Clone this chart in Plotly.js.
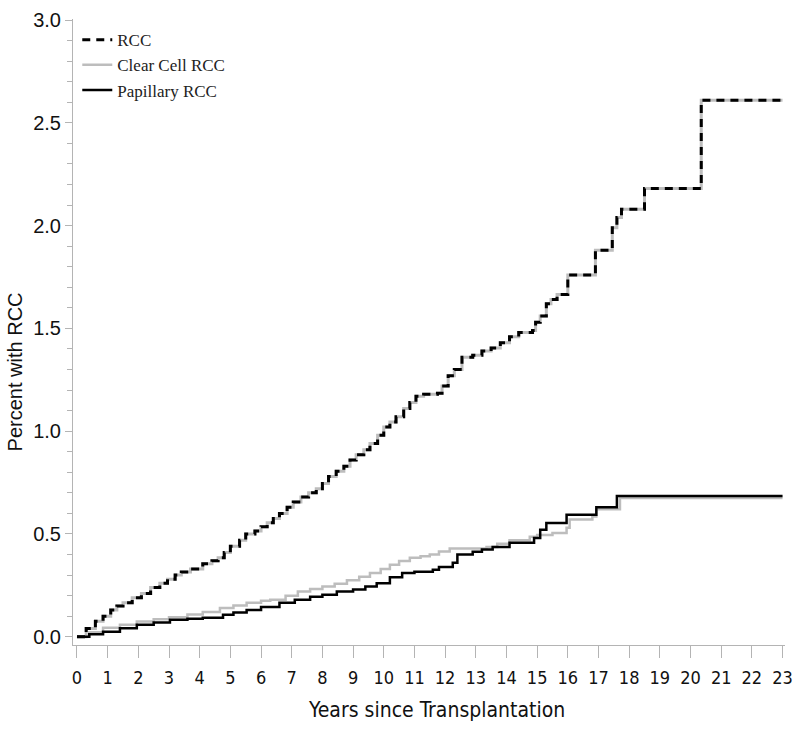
<!DOCTYPE html>
<html>
<head>
<meta charset="utf-8">
<script src="https://cdn.plot.ly/plotly-3.0.1.min.js"></script>
<style>html,body{margin:0;padding:0;background:#fff;}#chart{width:800px;height:734px;}</style>
</head>
<body>
<div id="chart"></div>
<script>
// RCC (all renal cell carcinoma)
const rccYears = [0, 0.3, 0.6, 0.85, 1.1, 1.3, 1.5, 1.8, 2.1, 2.4, 2.7, 2.95, 3.2, 3.4, 3.7, 4.1, 4.4, 4.6, 4.8, 5.0, 5.3, 5.5, 5.8, 6.0, 6.2, 6.4, 6.6, 6.85, 7.05, 7.3, 7.55, 7.8, 8.0, 8.2, 8.45, 8.7, 8.9, 9.1, 9.35, 9.55, 9.8, 10.0, 10.2, 10.4, 10.65, 10.85, 11.05, 11.3, 11.75, 11.9, 12.1, 12.3, 12.55, 12.9, 13.2, 13.5, 13.8, 14.1, 14.4, 14.85, 14.95, 15.1, 15.3, 15.45, 15.65, 16.0, 16.9, 17.05, 17.45, 17.6, 17.75, 18.5, 20.35, 23];
const rccPct   = [0, 0.04, 0.075, 0.10, 0.13, 0.15, 0.165, 0.19, 0.21, 0.24, 0.26, 0.28, 0.30, 0.315, 0.33, 0.355, 0.37, 0.385, 0.41, 0.44, 0.47, 0.50, 0.515, 0.535, 0.555, 0.575, 0.60, 0.63, 0.655, 0.68, 0.70, 0.72, 0.745, 0.78, 0.805, 0.83, 0.86, 0.885, 0.91, 0.94, 0.98, 1.02, 1.045, 1.07, 1.11, 1.14, 1.17, 1.18, 1.185, 1.22, 1.27, 1.30, 1.36, 1.37, 1.39, 1.405, 1.43, 1.46, 1.48, 1.49, 1.53, 1.56, 1.62, 1.64, 1.665, 1.76, 1.88, 1.88, 1.99, 2.04, 2.08, 2.18, 2.61, 2.61];

// Clear cell RCC
const ccYears = [0, 0.4, 0.85, 1.4, 1.95, 2.5, 3.0, 3.6, 4.1, 4.66, 5.1, 5.53, 6.0, 6.3, 6.8, 7.2, 7.6, 8.0, 8.4, 8.8, 9.2, 9.55, 9.9, 10.2, 10.5, 10.85, 11.2, 11.5, 11.8, 12.15, 13.35, 13.7, 14.1, 14.76, 15.0, 15.5, 15.96, 16.06, 16.8, 16.93, 17.7, 23];
const ccPct   = [0, 0.022, 0.044, 0.058, 0.074, 0.085, 0.095, 0.108, 0.12, 0.14, 0.152, 0.165, 0.175, 0.18, 0.2, 0.22, 0.232, 0.245, 0.258, 0.275, 0.292, 0.31, 0.33, 0.35, 0.368, 0.385, 0.392, 0.40, 0.415, 0.43, 0.437, 0.452, 0.47, 0.486, 0.495, 0.505, 0.53, 0.57, 0.585, 0.62, 0.675, 0.675];

// Papillary RCC
const papYears = [0, 0.4, 0.85, 1.4, 1.95, 2.5, 3.03, 3.6, 4.1, 4.76, 5.1, 5.53, 6.0, 6.6, 7.1, 7.6, 8.0, 8.47, 9.0, 9.4, 9.77, 10.2, 10.6, 11.0, 11.6, 11.8, 12.25, 12.4, 12.9, 13.2, 13.55, 14.1, 14.9, 15.1, 15.3, 15.96, 16.93, 17.6, 23];
const papPct   = [0, 0.012, 0.024, 0.042, 0.058, 0.07, 0.083, 0.088, 0.092, 0.107, 0.118, 0.13, 0.145, 0.165, 0.18, 0.195, 0.205, 0.22, 0.23, 0.245, 0.26, 0.29, 0.31, 0.316, 0.326, 0.34, 0.36, 0.40, 0.413, 0.425, 0.437, 0.457, 0.48, 0.52, 0.553, 0.593, 0.63, 0.685, 0.685];

const xTicks = [0,1,2,3,4,5,6,7,8,9,10,11,12,13,14,15,16,17,18,19,20,21,22,23];
const yTicks = [0, 0.5, 1.0, 1.5, 2.0, 2.5, 3.0];
const xTitle = 'Years since Transplantation';
const yTitle = 'Percent with RCC';

const axisGray = '#b4b4b4';
const narrow = '"DejaVu Sans Condensed", "Liberation Sans Narrow", "Arial Narrow", "Liberation Sans", Arial, sans-serif';
const sans = '"Liberation Sans", Arial, sans-serif';

const traces = [
  {x: rccYears, y: rccPct, mode: 'lines', line: {shape: 'hv', color: '#bdbdbd', width: 3}, showlegend: false, hoverinfo: 'skip'},
  {x: ccYears, y: ccPct, mode: 'lines', name: 'Clear Cell RCC', line: {shape: 'hv', color: '#bdbdbd', width: 2.5}, legendrank: 2},
  {x: papYears, y: papPct, mode: 'lines', name: 'Papillary RCC', line: {shape: 'hv', color: '#000000', width: 2.5}, legendrank: 3},
  {x: rccYears, y: rccPct, mode: 'lines', name: 'RCC', line: {shape: 'hv', color: '#000000', width: 3, dash: '8px,6px'}, legendrank: 1}
];

const layout = {
  width: 800, height: 734,
  margin: {l: 73, r: 15, t: 19, b: 89},
  paper_bgcolor: '#fff', plot_bgcolor: '#fff',
  showlegend: true,
  legend: {x: 0.006, y: 0.995, xanchor: 'left', yanchor: 'top', bgcolor: 'rgba(0,0,0,0)',
           font: {family: '"Liberation Serif", "Times New Roman", serif', size: 17, color: '#222'},
           itemwidth: 30, tracegroupgap: 0, traceorder: 'normal'},
  xaxis: {
    range: [-0.13, 23.08], tickvals: xTicks, ticktext: xTicks.map(String),
    showgrid: false, zeroline: false, showline: true, linecolor: axisGray, linewidth: 1,
    ticks: 'outside', ticklen: 12, tickcolor: axisGray, tickwidth: 1, ticklabelstandoff: 4,
    tickfont: {family: narrow, size: 18, color: '#111'}
  },
  yaxis: {
    range: [-0.04, 3.005], tickvals: yTicks, ticktext: yTicks.map(v => v.toFixed(1)),
    showgrid: false, zeroline: false, showline: true, linecolor: axisGray, linewidth: 1,
    ticks: 'outside', ticklen: 7, tickcolor: axisGray, tickwidth: 1,
    minor: {dtick: 0.1, tick0: 0, ticks: 'outside', ticklen: 5, tickcolor: axisGray, showgrid: false},
    tickfont: {family: sans, size: 20, color: '#111'}
  },
  annotations: [
    {text: xTitle, xref: 'paper', yref: 'paper', x: 0.51, y: -0.104, xanchor: 'center', yanchor: 'middle',
     showarrow: false, font: {family: narrow, size: 21, color: '#111'}},
    {text: yTitle, xref: 'paper', yref: 'paper', x: -0.081, y: 0.436, xanchor: 'center', yanchor: 'middle',
     textangle: -90, showarrow: false, font: {family: sans, size: 20, color: '#111'}}
  ]
};

Plotly.newPlot('chart', traces, layout, {displayModeBar: false, staticPlot: true});
</script>
</body>
</html>
